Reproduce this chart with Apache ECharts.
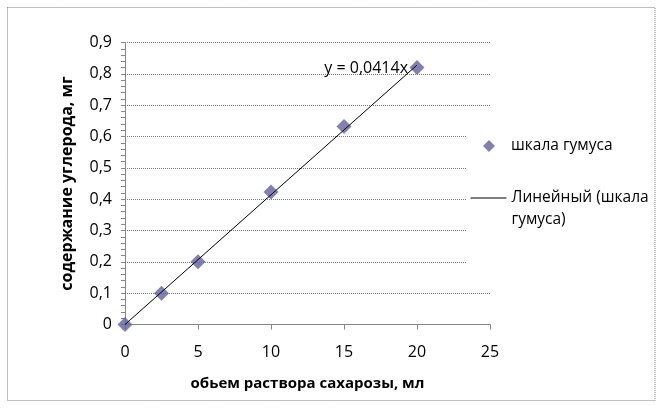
<!DOCTYPE html>
<html>
<head>
<meta charset="utf-8">
<script src="https://cdn.jsdelivr.net/npm/echarts@6/dist/echarts.min.js"></script>
<style>
html,body{margin:0;padding:0;background:#fff;}
#chart{width:663px;height:408px;}
</style>
</head>
<body>
<div id="chart"></div>
<script>
// Data
var xValues = [0, 2.5, 5, 10, 15, 20];
var yValues = [0, 0.1, 0.2, 0.423, 0.632, 0.82];
var trendX = [0, 20];
var trendY = [0, 0.828];
var seriesName = 'шкала гумуса';
var trendName = 'Линейный (шкала гумуса)';
var trendLegendLines = ['Линейный (шкала', 'гумуса)'];
var equationText = 'y = 0,0414x';
var xTitle = 'обьем раствора сахарозы, мл';
var yTitle = 'содержание углерода, мг';

var FONT = 'Open Sans';
var chart = echarts.init(document.getElementById('chart'), null, {renderer: 'canvas'});

var option = {
  backgroundColor: '#fff',
  animation: false,
  textStyle: {fontFamily: FONT, color: '#000'},
  grid: {left: 125, right: 173, top: 42.5, bottom: 83.5, containLabel: false},
  xAxis: {
    type: 'value', min: 0, max: 25, interval: 5,
    name: xTitle, nameLocation: 'middle', nameGap: 52,
    nameTextStyle: {fontFamily: FONT, fontWeight: 'bold', fontSize: 15, color: '#000'},
    axisLine: {show: true, lineStyle: {color: '#868686', width: 1}},
    axisTick: {show: true, length: 5, lineStyle: {color: '#868686'}},
    axisLabel: {margin: 20, fontSize: 16, color: '#000', fontFamily: FONT},
    splitLine: {show: false}
  },
  yAxis: {
    type: 'value', min: 0, max: 0.9, interval: 0.1,
    name: yTitle, nameLocation: 'middle', nameGap: 50,
    nameTextStyle: {fontFamily: FONT, fontWeight: 'bold', fontSize: 16, color: '#000'},
    axisLine: {show: true, lineStyle: {color: '#868686', width: 1}},
    axisTick: {show: true, length: 4, lineStyle: {color: '#868686'}},
    minorTick: {show: true, splitNumber: 5, length: 4, lineStyle: {color: '#868686'}},
    axisLabel: {margin: 13, fontSize: 16, color: '#000', fontFamily: FONT,
      formatter: function (v) { return String(Math.round(v * 10) / 10).replace('.', ','); }},
    splitLine: {show: true, lineStyle: {color: '#7a7a7a', type: 'dotted', width: 1}}
  },
  legend: [
    {
      data: [{name: seriesName, icon: 'diamond'}],
      left: 478, top: 133, orient: 'vertical', z: 10,
      itemWidth: 12, itemHeight: 12,
      textStyle: {fontFamily: FONT, fontSize: 15.5, color: '#000', padding: [0, 0, 0, 11]}
    },
    {
      data: [trendName],
      left: 465, top: 160, orient: 'vertical', z: 10,
      itemWidth: 36, itemHeight: 14,
      itemStyle: {opacity: 0, borderWidth: 0},
      lineStyle: {color: '#000', width: 1},
      formatter: function () { return ' \n' + trendLegendLines.join('\n'); },
      textStyle: {fontFamily: FONT, fontSize: 15.5, color: '#000', lineHeight: 22}
    }
  ],
  graphic: [
    {type: 'rect', z: 1, silent: true,
      shape: {x: 466, y: 128, width: 187, height: 157},
      style: {fill: '#fff'}},
    {type: 'rect', z: 100, silent: true,
      shape: {x: 7.5, y: 7.5, width: 647.5, height: 393},
      style: {fill: 'none', stroke: '#808080', lineWidth: 1, lineDash: [1, 1]}}
  ],
  series: [
    {
      name: seriesName, type: 'scatter', z: 2,
      symbol: 'diamond', symbolSize: 15,
      itemStyle: {color: '#60609E'},
      data: xValues.map(function (x, i) { return [x, yValues[i]]; })
    },
    {
      name: trendName, type: 'line', z: 3,
      symbol: 'none', showSymbol: false,
      lineStyle: {color: '#000', width: 1},
      itemStyle: {color: '#000'},
      data: trendX.map(function (x, i) { return [x, trendY[i]]; }),
      endLabel: {show: true, formatter: equationText, align: 'right', offset: [-17, 3],
        fontFamily: FONT, fontSize: 16, color: '#000'}
    }
  ]
};
chart.setOption(option);
</script>
</body>
</html>
